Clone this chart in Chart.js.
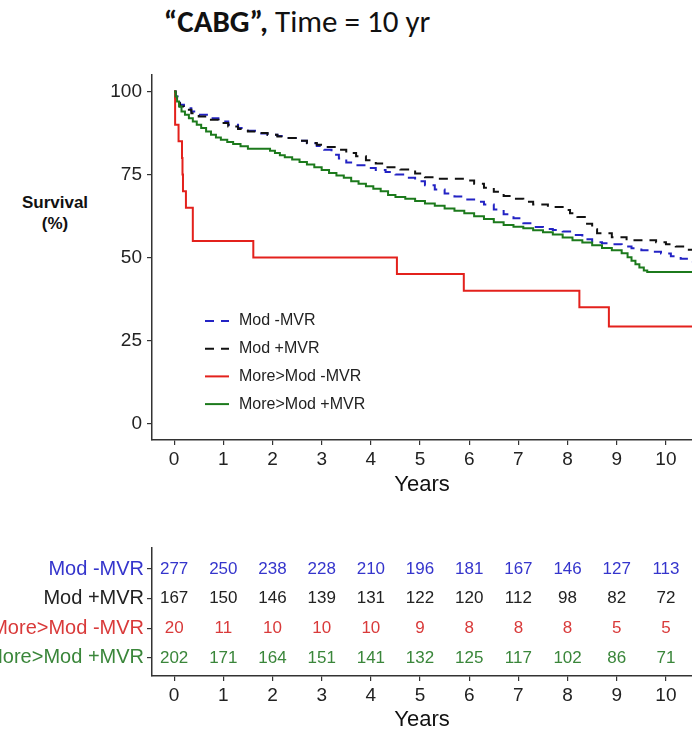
<!DOCTYPE html>
<html>
<head>
<meta charset="utf-8">
<script src="https://cdn.jsdelivr.net/npm/chart.js@4.4.1/dist/chart.umd.min.js"></script>
<style>
  body { margin: 0; background: #fff; width: 692px; height: 733px; position: relative; overflow: hidden; font-family: "Liberation Sans", Arial, sans-serif; }
  #title { position: absolute; top: 2px; left: 0; width: 594px; text-align: center; font-family: Carlito, Calibri, "Open Sans", sans-serif; font-size: 31px; color: #111; }
  #ylab { position: absolute; left: 9px; top: 192px; width: 92px; text-align: center; font-weight: bold; font-size: 17px; line-height: 21px; color: #111; }
  #km { position: absolute; left: 0; top: 0; }
  #risk { position: absolute; left: 0; top: 530px; }
</style>
</head>
<body>
<div id="title"><b>“CABG”,</b> Time = 10 yr</div>
<div id="ylab">Survival<br>(%)</div>
<canvas id="km" width="692" height="500"></canvas>
<canvas id="risk" width="692" height="203"></canvas>
<script>
// groups and axis ticks
const groups = ['Mod -MVR', 'Mod +MVR', 'More>Mod -MVR', 'More>Mod +MVR'];
const years = [0, 1, 2, 3, 4, 5, 6, 7, 8, 9, 10];
const survTicks = [0, 25, 50, 75, 100];

// Kaplan-Meier steps (time in years, survival %)
const modNoMvrT = [0, 0.03, 0.07, 0.12, 0.2, 0.35, 0.5, 0.7, 0.9, 1.1, 1.3, 1.5, 1.7, 1.9, 2.1, 2.3, 2.5, 2.7, 2.9, 3.05, 3.2, 3.35, 3.5, 3.7, 3.9, 4.1, 4.3, 4.5, 4.7, 4.9, 5.1, 5.3, 5.5, 5.7, 5.9, 6.1, 6.3, 6.5, 6.7, 6.9, 7.1, 7.3, 7.5, 7.7, 7.9, 8.1, 8.3, 8.5, 8.7, 8.9, 9.1, 9.3, 9.5, 9.7, 9.9, 10.1, 10.3, 10.45, 10.6];
const modNoMvrS = [100, 98.5, 97, 96, 95, 94, 93, 92, 91, 90, 89, 88.2, 87.4, 87, 86.6, 86, 85.2, 84.4, 83.6, 82.5, 81, 79.8, 78.6, 77.8, 77, 76.4, 75.8, 75, 74, 73, 71.8, 70.5, 69.3, 68.4, 67.5, 66.8, 66, 64.5, 63, 61.8, 60.3, 59.2, 58.6, 58.3, 57.8, 56.8, 55.5, 54.6, 54.3, 54, 53.3, 52.8, 52.2, 51.7, 51.2, 50.4, 49.6, 48.7, 48.2];

const modMvrT = [0, 0.03, 0.07, 0.12, 0.2, 0.35, 0.5, 0.7, 0.9, 1.1, 1.3, 1.5, 1.7, 1.9, 2.1, 2.3, 2.5, 2.7, 2.9, 3.1, 3.3, 3.5, 3.7, 3.9, 4.1, 4.3, 4.6, 4.9, 5.1, 5.3, 5.9, 6.1, 6.3, 6.5, 6.7, 6.9, 7.1, 7.3, 7.6, 7.9, 8.05, 8.2, 8.35, 8.5, 8.6, 8.9, 9.2, 9.8, 10.0, 10.2, 10.4, 10.6];
const modMvrS = [100, 98, 96.5, 95.5, 94.5, 93.5, 92.5, 91.5, 90.5, 89.5, 88.7, 88, 87.5, 87, 86.5, 86, 85.2, 84.5, 84, 83.3, 82.5, 81.5, 80.5, 79.3, 78.3, 77.2, 76.5, 75.3, 74.2, 73.7, 73.2, 72.2, 71, 69.8, 68.5, 67.7, 66.8, 66, 65.2, 64.3, 63.3, 62.2, 60.2, 58.5, 57.3, 56.1, 55.2, 54.6, 54, 53.3, 52.3, 51.6];

const moreNoMvrT = [0, 0.02, 0.09, 0.16, 0.17, 0.18, 0.24, 0.38, 1.61, 4.53, 5.89, 8.24, 8.84, 10.6];
const moreNoMvrS = [100, 90, 85, 80, 75, 70, 65, 55, 50, 45, 40, 35, 29.2, 29.2];

const moreMvrT = [0, 0.03, 0.06, 0.1, 0.15, 0.22, 0.3, 0.38, 0.46, 0.55, 0.65, 0.75, 0.85, 0.95, 1.08, 1.2, 1.35, 1.5, 1.95, 2.05, 2.15, 2.25, 2.4, 2.55, 2.7, 2.85, 3.0, 3.15, 3.3, 3.45, 3.6, 3.75, 3.9, 4.05, 4.2, 4.35, 4.5, 4.7, 4.9, 5.1, 5.3, 5.5, 5.7, 5.9, 6.1, 6.3, 6.5, 6.7, 6.9, 7.1, 7.3, 7.5, 7.7, 7.9, 8.1, 8.3, 8.5, 8.7, 8.9, 9.1, 9.22, 9.3, 9.38, 9.46, 9.55, 9.62, 10.6];
const moreMvrS = [100, 98.5, 97, 95.5, 94, 93, 92, 91, 90, 89, 88, 87, 86.2, 85.5, 84.8, 84.2, 83.5, 82.8, 82.2, 81.5, 80.8, 80.2, 79.5, 78.8, 78, 77.2, 76.4, 75.5, 74.7, 74, 73, 72.2, 71.5, 70.7, 70, 68.8, 68.2, 67.7, 67.0, 66.3, 65.6, 64.8, 64.1, 63.3, 62.4, 61.6, 60.6, 59.8, 59.3, 58.8, 58.2, 57.6, 56.9, 56.0, 55.2, 54.5, 53.7, 52.9, 52.2, 51.3, 50.1, 49.0, 48.0, 47.0, 46.1, 45.6, 45.6];

// numbers at risk
const riskModNoMvr = [277, 250, 238, 228, 210, 196, 181, 167, 146, 127, 113];
const riskModMvr = [167, 150, 146, 139, 131, 122, 120, 112, 98, 82, 72];
const riskMoreNoMvr = [20, 11, 10, 10, 10, 9, 8, 8, 8, 5, 5];
const riskMoreMvr = [202, 171, 164, 151, 141, 132, 125, 117, 102, 86, 71];

const lineColors = ['#2323c4', '#111111', '#e3211c', '#1c7a1c'];
const textColors = ['#3535cc', '#222222', '#d93a3a', '#3a863a'];
const FONT = '"Liberation Sans", Arial, sans-serif';

function pts(t, s) { return t.map((x, i) => ({ x: x, y: s[i] })); }

const kmLegend = {
  id: 'kmLegend',
  afterDraw(chart) {
    const ctx = chart.ctx;
    ctx.save();
    ctx.font = '16px ' + FONT;
    ctx.textBaseline = 'middle';
    chart.data.datasets.forEach((ds, i) => {
      const y = 321 + i * 27.7;
      ctx.strokeStyle = ds.borderColor;
      ctx.lineWidth = ds.borderWidth;
      ctx.setLineDash(ds.borderDash || []);
      ctx.beginPath(); ctx.moveTo(205, y); ctx.lineTo(229, y); ctx.stroke();
      ctx.setLineDash([]);
      ctx.fillStyle = '#222';
      ctx.fillText(ds.label, 239, y);
    });
    ctx.restore();
  }
};

const axisCommon = {
  grid: { display: true, drawOnChartArea: false, drawTicks: true, tickLength: 5, color: '#333', lineWidth: 1.2 },
  border: { display: true, color: '#333', width: 1.5 }
};

new Chart(document.getElementById('km'), {
  type: 'line',
  data: {
    datasets: [
      { label: groups[0], data: pts(modNoMvrT, modNoMvrS), borderColor: lineColors[0], borderWidth: 2, borderDash: [9, 7], order: 3 },
      { label: groups[1], data: pts(modMvrT, modMvrS), borderColor: lineColors[1], borderWidth: 2, borderDash: [9, 7], order: 2 },
      { label: groups[2], data: pts(moreNoMvrT, moreNoMvrS), borderColor: lineColors[2], borderWidth: 2, order: 1 },
      { label: groups[3], data: pts(moreMvrT, moreMvrS), borderColor: lineColors[3], borderWidth: 2, order: 0 }
    ].map(d => Object.assign(d, { stepped: 'before', pointRadius: 0, fill: false }))
  },
  options: {
    responsive: false,
    animation: false,
    layout: { padding: { top: 75, left: 0, right: 0, bottom: 0 } },
    plugins: { legend: { display: false }, tooltip: { enabled: false } },
    scales: {
      x: Object.assign({
        type: 'linear', min: -0.45, max: 10.53,
        afterBuildTicks: s => { s.ticks = years.map(v => ({ value: v })); },
        afterFit: s => { s.height = 60; },
        ticks: { font: { size: 19, family: FONT }, color: '#222', padding: 3, maxRotation: 0 },
        title: { display: true, text: 'Years', font: { size: 22, family: FONT }, color: '#111', padding: { top: 0, bottom: 2 } }
      }, axisCommon),
      y: Object.assign({
        type: 'linear', min: -5, max: 105,
        afterBuildTicks: s => { s.ticks = survTicks.map(v => ({ value: v })); },
        afterFit: s => { s.width = 152; },
        ticks: { font: { size: 19, family: FONT }, color: '#222', padding: 5 }
      }, axisCommon)
    }
  },
  plugins: [kmLegend]
});

// risk table
const riskRows = [riskModNoMvr, riskModMvr, riskMoreNoMvr, riskMoreMvr];

const riskText = {
  id: 'riskText',
  afterDatasetsDraw(chart) {
    const ctx = chart.ctx;
    ctx.save();
    ctx.font = '17px ' + FONT;
    ctx.textAlign = 'center';
    ctx.textBaseline = 'middle';
    chart.data.datasets.forEach((ds, i) => {
      const meta = chart.getDatasetMeta(i);
      ctx.fillStyle = textColors[i];
      meta.data.forEach((p, j) => ctx.fillText(String(riskRows[i][j]), p.x, p.y));
    });
    ctx.restore();
  }
};

new Chart(document.getElementById('risk'), {
  type: 'scatter',
  data: {
    datasets: riskRows.map((row, i) => ({
      label: groups[i],
      data: row.map((n, j) => ({ x: years[j], y: 4 - i })),
      pointRadius: 0, showLine: false
    }))
  },
  options: {
    responsive: false,
    animation: false,
    layout: { padding: { top: 18, left: 0, right: 0, bottom: 0 } },
    plugins: { legend: { display: false }, tooltip: { enabled: false } },
    scales: {
      x: Object.assign({
        type: 'linear', min: -0.45, max: 10.53,
        afterBuildTicks: s => { s.ticks = years.map(v => ({ value: v })); },
        afterFit: s => { s.height = 57; },
        ticks: { font: { size: 19, family: FONT }, color: '#222', padding: 3, maxRotation: 0 },
        title: { display: true, text: 'Years', font: { size: 22, family: FONT }, color: '#111', padding: { top: 0, bottom: 0 } }
      }, axisCommon),
      y: Object.assign({
        type: 'linear', min: 0.39, max: 4.71,
        afterBuildTicks: s => { s.ticks = [4, 3, 2, 1].map(v => ({ value: v })); },
        afterFit: s => { s.width = 152; },
        ticks: {
          font: { size: 20, family: FONT }, padding: 3, autoSkip: false,
          callback: v => groups[4 - v],
          color: c => textColors[4 - c.tick.value]
        }
      }, axisCommon)
    }
  },
  plugins: [riskText]
});
</script>
</body>
</html>
